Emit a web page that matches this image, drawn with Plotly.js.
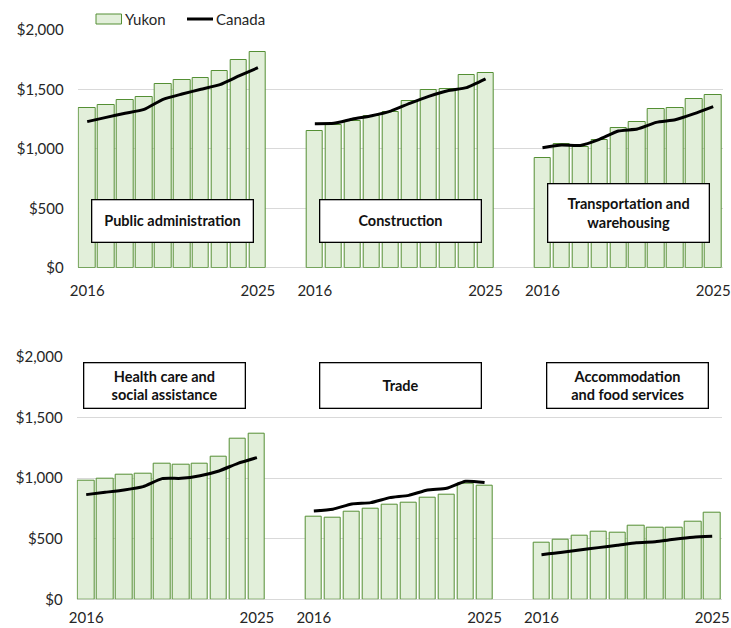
<!DOCTYPE html>
<html>
<head>
<meta charset="utf-8">
<script src="https://cdn.plot.ly/plotly-3.0.1.min.js"></script>
<style>html,body{margin:0;padding:0;background:#fff}#chart{width:731px;height:628px}</style>
</head>
<body>
<div id="chart"></div>
<script>
// ---- data ----
var years = ['2016','2017','2018','2019','2020','2021','2022','2023','2024','2025'];
var sectors = ['Public administration','Construction','Transportation and<br>warehousing',
               'Health care and<br>social assistance','Trade','Accommodation<br>and food services'];
var yukonPublicAdmin   = [1341,1366,1411,1433,1543,1579,1593,1655,1745,1815];
var canadaPublicAdmin  = [1229,1265,1299,1332,1417,1461,1501,1540,1613,1683];
var yukonConstruction  = [1150,1198,1231,1276,1313,1400,1498,1503,1624,1638];
var canadaConstruction = [1212,1215,1251,1279,1318,1383,1442,1489,1515,1588];
var yukonTransport     = [920,1041,1013,1072,1175,1226,1335,1344,1417,1450];
var canadaTransport    = [1010,1032,1029,1080,1150,1167,1223,1245,1296,1355];
var yukonHealth        = [981,995,1030,1038,1121,1110,1121,1179,1324,1368];
var canadaHealth       = [863,882,901,929,995,997,1019,1058,1121,1168];
var yukonTrade         = [681,676,725,745,783,797,838,863,951,934];
var canadaTrade        = [728,742,786,797,838,857,901,915,973,962];
var yukonAccommodation = [464,489,525,560,547,604,593,593,637,712];
var canadaAccommodation= [368,385,407,426,445,467,475,495,511,519];
var yTicks = [0,500,1000,1500,2000];
var yTickLabels = ['$0','$500','$1,000','$1,500','$2,000'];
var seriesNames = ['Yukon','Canada'];

var yukonAll  = [yukonPublicAdmin,yukonConstruction,yukonTransport,yukonHealth,yukonTrade,yukonAccommodation];
var canadaAll = [canadaPublicAdmin,canadaConstruction,canadaTransport,canadaHealth,canadaTrade,canadaAccommodation];

// ---- layout helpers ----
var W = 731, H = 628;
function px(v){return v/W;}
function py(v){return 1 - v/H;}
var GAP = 12; // panel spacing in bar slots
var BAR_FILL = '#E2EFDA', BAR_LINE = '#548F34';

var traces = [];
var tickvals1 = [], tickvals2 = [], ticktext1 = [], ticktext2 = [];
for (var i = 0; i < 6; i++) {
  var row = i < 3 ? 1 : 2;
  var panel = i % 3;
  var xs = years.map(function(_, j){ return panel*GAP + j; });
  var xa = row === 1 ? 'x' : 'x2', ya = row === 1 ? 'y' : 'y2';
  traces.push({
    type:'bar', x: xs, y: yukonAll[i], xaxis: xa, yaxis: ya, width: 0.86,
    name: seriesNames[0], showlegend:false,
    marker:{color:BAR_FILL, line:{color:BAR_LINE, width:1}},
    hovertext: years, hoverinfo:'y+text'
  });
  traces.push({
    type:'scatter', mode:'lines', x: xs, y: canadaAll[i], xaxis: xa, yaxis: ya,
    name: seriesNames[1], showlegend:false,
    line:{color:'#000000', width:3, shape:'spline', smoothing:0.5},
    hovertext: years, hoverinfo:'y+text'
  });
  var tv = row === 1 ? tickvals1 : tickvals2, tt = row === 1 ? ticktext1 : ticktext2;
  tv.push(xs[0], xs[xs.length-1]); tt.push(years[0], years[years.length-1]);
}

var font = {family:'Lato, "Noto Sans", sans-serif', size:15, color:'#262626'};
var yaxisBase = {
  range:[0,2000], tickmode:'array', tickvals: yTicks, ticktext: yTickLabels,
  showgrid:true, gridcolor:'#D9D9D9', gridwidth:1, zeroline:true, zerolinecolor:'#D9D9D9', zerolinewidth:1,
  showline:false, ticks:'', ticklabelstandoff:13, fixedrange:true, tickfont:font
};
var xaxisBase = {
  range:[-0.5, 2*GAP+9.5], showgrid:false, zeroline:false, showline:false, ticks:'',
  tickmode:'array', tickfont:font, fixedrange:true
};

var annBoxes = [
  {i:0, x:4.5,  y:393,  h:41},
  {i:1, x:16.53,y:393,  h:41},
  {i:2, x:28.55,y:463,  h:57.4},
  {i:3, x:4.14, y:1760, h:44.4},
  {i:4, x:16.55,y:1760, h:44.4},
  {i:5, x:28.54,y:1760, h:44.4}
];
var annotations = annBoxes.map(function(b){
  return {
    text:'<b>'+sectors[b.i]+'</b>', x:b.x, y:b.y, xref: b.i<3?'x':'x2', yref: b.i<3?'y':'y2',
    showarrow:false, width:160.4, height:b.h, bgcolor:'#FFFFFF', bordercolor:'#000000',
    borderwidth:1.3, borderpad:0, align:'center', valign:'middle',
    font:{family:'Lato, "Noto Sans", sans-serif', size:14.5, color:'#111111'}
  };
});
// legend text
annotations.push({text:seriesNames[0], x:px(122.5), y:py(18.5), xref:'paper', yref:'paper', xanchor:'left', yanchor:'middle', showarrow:false, font:font});
annotations.push({text:seriesNames[1], x:px(214), y:py(18.5), xref:'paper', yref:'paper', xanchor:'left', yanchor:'middle', showarrow:false, font:font});

var shapes = [
  {type:'rect', xref:'paper', yref:'paper', x0:px(96), x1:px(121.5), y0:py(24), y1:py(14),
   fillcolor:BAR_FILL, line:{color:BAR_LINE, width:1}},
  {type:'line', xref:'paper', yref:'paper', x0:px(187), x1:px(213), y0:py(19), y1:py(19),
   line:{color:'#000000', width:3}}
];

var layout = {
  width:W, height:H, margin:{l:0,r:0,t:0,b:0}, paper_bgcolor:'#fff', plot_bgcolor:'#fff',
  font:font, showlegend:false, barmode:'overlay', bargap:0,
  xaxis: Object.assign({}, xaxisBase, {domain:[px(77.7), px(722.7)], anchor:'y', tickvals:tickvals1, ticktext:ticktext1, ticklabelstandoff:12}),
  yaxis: Object.assign({}, yaxisBase, {domain:[py(267.7), py(30)], anchor:'x'}),
  xaxis2: Object.assign({}, xaxisBase, {domain:[px(76.7), px(721.7)], anchor:'y2', tickvals:tickvals2, ticktext:ticktext2, ticklabelstandoff:8}),
  yaxis2: Object.assign({}, yaxisBase, {domain:[py(599.3), py(356.7)], anchor:'x2'}),
  annotations: annotations, shapes: shapes
};

Plotly.newPlot('chart', traces, layout, {displayModeBar:false});
</script>
</body>
</html>
